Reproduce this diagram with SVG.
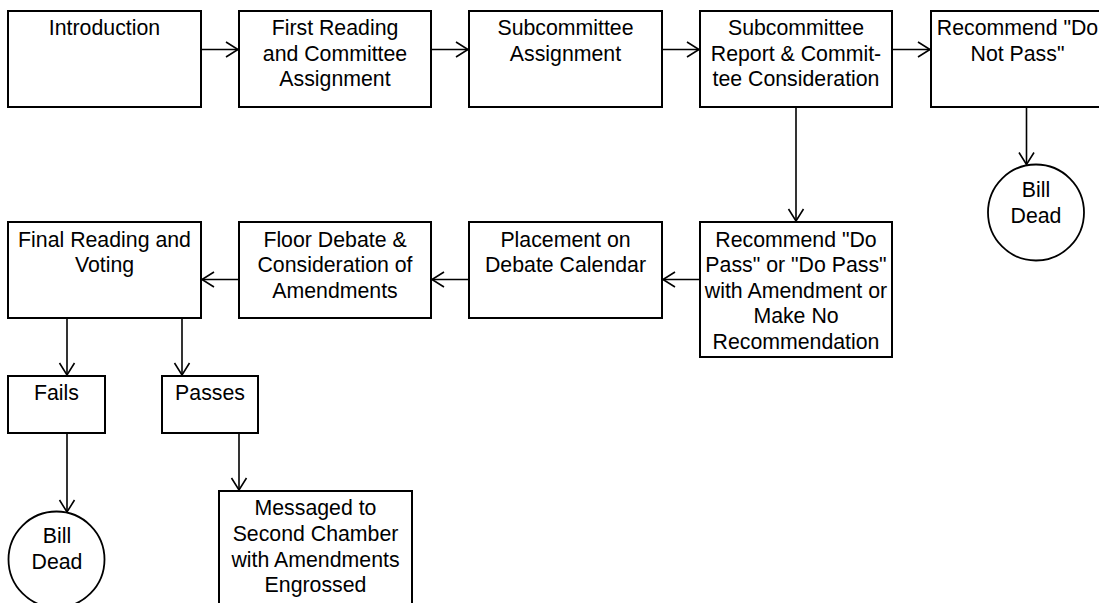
<svg xmlns="http://www.w3.org/2000/svg" width="1099" height="603" viewBox="0 0 1099 603">
<style>
.box{fill:#fff;stroke:#000;stroke-width:2}
.circ{fill:#fff;stroke:#000;stroke-width:1.8}
.t{font-family:"Liberation Sans",Arial,sans-serif;font-size:21.3px;fill:#000;text-anchor:middle}
.c{fill:none;stroke:#000;stroke-width:1.6}
</style>
<defs>
<marker id="arr" markerUnits="userSpaceOnUse" markerWidth="16" markerHeight="18" viewBox="-14 -9 16 18" refX="0" refY="0" orient="auto">
<path d="M-12,-7.5 L0,0 L-12,7.5" fill="none" stroke="#000" stroke-width="1.6"/>
</marker>
</defs>
<rect width="1099" height="603" fill="#fff"/>
<g id="connectors">
<line class="c" x1="201" y1="49.5" x2="238" y2="49.5" marker-end="url(#arr)"/>
<line class="c" x1="431" y1="49.5" x2="468" y2="49.5" marker-end="url(#arr)"/>
<line class="c" x1="662" y1="49.5" x2="699" y2="49.5" marker-end="url(#arr)"/>
<line class="c" x1="892" y1="49.5" x2="930" y2="49.5" marker-end="url(#arr)"/>
<line class="c" x1="1026.5" y1="107" x2="1026.5" y2="164.5" marker-end="url(#arr)"/>
<line class="c" x1="796" y1="107" x2="796" y2="221" marker-end="url(#arr)"/>
<line class="c" x1="700" y1="279.5" x2="663" y2="279.5" marker-end="url(#arr)"/>
<line class="c" x1="469" y1="279.5" x2="432" y2="279.5" marker-end="url(#arr)"/>
<line class="c" x1="239" y1="279.5" x2="202" y2="279.5" marker-end="url(#arr)"/>
<line class="c" x1="67" y1="318" x2="67" y2="375" marker-end="url(#arr)"/>
<line class="c" x1="182" y1="318" x2="182" y2="375" marker-end="url(#arr)"/>
<line class="c" x1="67" y1="433" x2="67" y2="512" marker-end="url(#arr)"/>
<line class="c" x1="239" y1="433" x2="239" y2="490" marker-end="url(#arr)"/>
</g>
<g id="introduction"><rect class="box" x="8" y="11" width="193" height="96"/><text class="t" x="104.5" y="35">Introduction</text></g>
<g id="first-reading"><rect class="box" x="239" y="11" width="192" height="96"/><text class="t" x="335" y="35">First Reading</text><text class="t" x="335" y="60.5">and Committee</text><text class="t" x="335" y="86">Assignment</text></g>
<g id="subcommittee-assignment"><rect class="box" x="469" y="11" width="193" height="96"/><text class="t" x="565.5" y="35">Subcommittee</text><text class="t" x="565.5" y="60.5">Assignment</text></g>
<g id="subcommittee-report"><rect class="box" x="700" y="11" width="192" height="96"/><text class="t" x="796" y="35">Subcommittee</text><text class="t" x="796" y="60.5">Report &amp; Commit-</text><text class="t" x="796" y="86">tee Consideration</text></g>
<g id="recommend-do-not-pass"><rect class="box" x="931" y="11" width="192" height="96"/><text class="t" x="1017.5" y="35">Recommend "Do</text><text class="t" x="1017.5" y="60.5">Not Pass"</text></g>
<g id="bill-dead-1"><circle class="circ" cx="1036" cy="212.5" r="48"/><text class="t" x="1036" y="197">Bill</text><text class="t" x="1036" y="222.5">Dead</text></g>
<g id="recommend-do-pass"><rect class="box" x="700" y="222" width="192" height="135"/><text class="t" x="796" y="246.5">Recommend "Do</text><text class="t" x="796" y="272">Pass" or "Do Pass"</text><text class="t" x="796" y="297.5">with Amendment or</text><text class="t" x="796" y="323">Make No</text><text class="t" x="796" y="348.5">Recommendation</text></g>
<g id="placement"><rect class="box" x="469" y="222" width="193" height="96"/><text class="t" x="565.5" y="246.5">Placement on</text><text class="t" x="565.5" y="272">Debate Calendar</text></g>
<g id="floor-debate"><rect class="box" x="239" y="222" width="192" height="96"/><text class="t" x="335" y="246.5">Floor Debate &amp;</text><text class="t" x="335" y="272">Consideration of</text><text class="t" x="335" y="297.5">Amendments</text></g>
<g id="final-reading"><rect class="box" x="8" y="222" width="193" height="96"/><text class="t" x="104.5" y="246.5">Final Reading and</text><text class="t" x="104.5" y="272">Voting</text></g>
<g id="fails"><rect class="box" x="8" y="376" width="97" height="57"/><text class="t" x="56.5" y="400">Fails</text></g>
<g id="passes"><rect class="box" x="162" y="376" width="96" height="57"/><text class="t" x="210" y="400">Passes</text></g>
<g id="bill-dead-2"><circle class="circ" cx="56.5" cy="559.5" r="48"/><text class="t" x="57" y="543">Bill</text><text class="t" x="57" y="568.5">Dead</text></g>
<g id="messaged"><rect class="box" x="219" y="491" width="193" height="130"/><text class="t" x="315.5" y="515">Messaged to</text><text class="t" x="315.5" y="541">Second Chamber</text><text class="t" x="315.5" y="566.5">with Amendments</text><text class="t" x="315.5" y="592">Engrossed</text></g>
</svg>
